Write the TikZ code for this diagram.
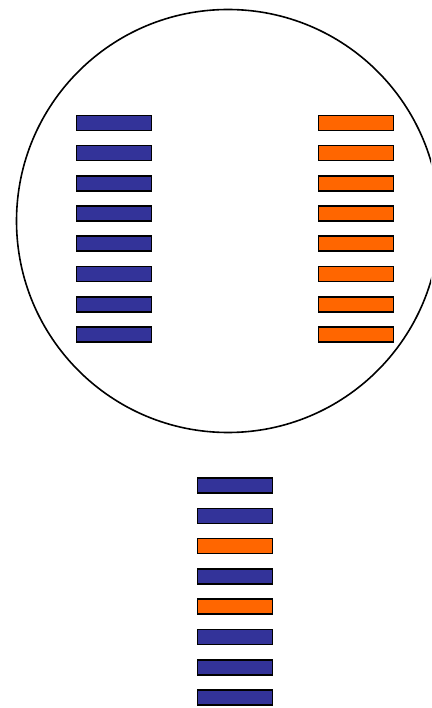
\documentclass[tikz,border=0pt]{standalone}
\begin{document}
\begin{tikzpicture}[x=1pt,y=-1pt,
  bar/.style={rectangle,draw=black,line width=1.6pt,minimum width=75pt,minimum height=15pt,inner sep=0pt},
  bluebar/.style={bar,fill=barblue},
  orangebar/.style={bar,fill=barorange}]
\definecolor{barblue}{HTML}{333399}
\definecolor{barorange}{HTML}{FF6600}
\useasboundingbox (0,0) rectangle (431,708);
\begin{scope}
\clip (0,0) rectangle (431,708);
\node[circle,draw=black,line width=1.6pt,minimum size=423pt,inner sep=0pt] (cell) at (228,221) {};
\end{scope}
\foreach \i in {0,...,7} {
  \node[bluebar] (L\i) at (114,{123+30.2*\i}) {};
  \node[orangebar] (R\i) at (356,{123+30.2*\i}) {};
}
\foreach \i/\c in {0/bluebar,1/bluebar,2/orangebar,3/bluebar,4/orangebar,5/bluebar,6/bluebar,7/bluebar} {
  \node[\c] (B\i) at (235,{485.5+30.3*\i}) {};
}
\end{tikzpicture}
\end{document}
